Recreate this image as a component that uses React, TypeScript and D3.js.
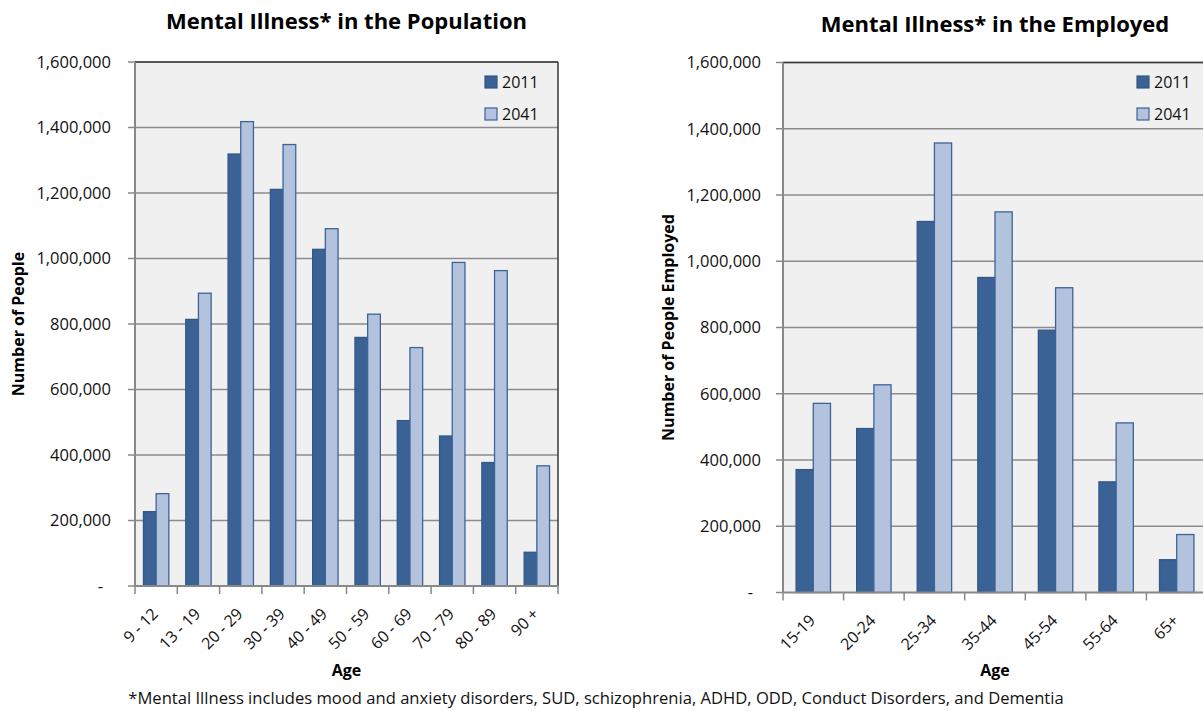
import React from "react";
import * as d3 from "d3";

// Age groups and counts of people with mental illness, 2011 vs projected 2041
const popCategories = ["9 - 12", "13 - 19", "20 - 29", "30 - 39", "40 - 49", "50 - 59", "60 - 69", "70 - 79", "80 - 89", "90 +"];
const pop2011 = [227000, 814000, 1319000, 1211000, 1028000, 759000, 505000, 458000, 377000, 103000];
const pop2041 = [282000, 894000, 1418000, 1348000, 1091000, 830000, 728000, 988000, 963000, 367000];

const empCategories = ["15-19", "20-24", "25-34", "35-44", "45-54", "55-64", "65+"];
const emp2011 = [371000, 495000, 1120000, 951000, 792000, 334000, 99000];
const emp2041 = [571000, 627000, 1357000, 1149000, 920000, 512000, 175000];

const seriesNames = ["2011", "2041"];
const yTicks = [0, 200000, 400000, 600000, 800000, 1000000, 1200000, 1400000, 1600000];

const FONT = "'Open Sans', 'Noto Sans', sans-serif";
const DARK = "#3b6295";
const LIGHT = "#b4c3dd";
const DARK_EDGE = "#335888";
const LIGHT_EDGE = "#3d6399";
const GRID = "#8c8c8c";

type ChartProps = {
  categories: string[];
  values: number[][];
  title: string;
  yLabel: string;
  x0: number;
  x1: number;
  y0: number;
  y1: number;
  groupFrac: number;
  titleY: number;
  yLabelX: number;
  legendX: number;
  tickGap: number;
  zeroGap: number;
};

const fmt = d3.format(",");

function BarChart(p: ChartProps) {
  const x = d3.scaleBand<string>().domain(p.categories).range([p.x0, p.x1]).paddingInner(0).paddingOuter(0);
  const y = d3.scaleLinear().domain([0, 1600000]).range([p.y1, p.y0]);
  const bw = x.bandwidth();
  const groupW = bw * p.groupFrac;
  const xs = d3.scaleBand<string>().domain(seriesNames).range([(bw - groupW) / 2, (bw + groupW) / 2]);
  const fills = [DARK, LIGHT];
  const edges = [DARK_EDGE, LIGHT_EDGE];
  const cx = (p.x0 + p.x1) / 2;
  const cy = (p.y0 + p.y1) / 2;

  return (
    <g>
      <text x={cx} y={p.titleY} textAnchor="middle" fontFamily={FONT} fontWeight={700} fontSize={22} fill="#000">
        {p.title}
      </text>
      <rect x={p.x0} y={p.y0} width={p.x1 - p.x0} height={p.y1 - p.y0} fill="#f0f0f0" />
      {yTicks.slice(1).map((t) => (
        <line key={t} x1={p.x0} x2={p.x1} y1={y(t)} y2={y(t)} stroke={GRID} strokeWidth={1.5} />
      ))}
      {/* plot frame: dark top and right edges */}
      <line x1={p.x0} x2={p.x1} y1={p.y0} y2={p.y0} stroke="#3a3a3a" strokeWidth={1.5} />
      <line x1={p.x1} x2={p.x1} y1={p.y0} y2={p.y1} stroke="#3a3a3a" strokeWidth={1.5} />
      {p.categories.map((c, i) => (
        <g key={c} transform={`translate(${x(c)},0)`}>
          {seriesNames.map((s, k) => {
            const v = p.values[k][i];
            return (
              <rect
                key={s}
                x={xs(s)}
                y={y(v)}
                width={xs.bandwidth()}
                height={y(0) - y(v)}
                fill={fills[k]}
                stroke={edges[k]}
                strokeWidth={1.3}
              />
            );
          })}
        </g>
      ))}
      {/* axes */}
      <line x1={p.x0} x2={p.x0} y1={p.y0} y2={p.y1} stroke="#888" strokeWidth={2} />
      <line x1={p.x0} x2={p.x1} y1={p.y1} y2={p.y1} stroke="#888" strokeWidth={2} />
      {yTicks.map((t) => (
        <g key={t}>
          <line x1={p.x0 - 7} x2={p.x0} y1={y(t)} y2={y(t)} stroke="#888" strokeWidth={1.5} />
          <text
            x={t === 0 ? p.x0 - p.zeroGap : p.x0 - p.tickGap}
            y={y(t)}
            dy="0.36em"
            textAnchor="end"
            fontFamily={FONT}
            fontSize={16.5}
            fill="#111"
          >
            {t === 0 ? "-" : fmt(t)}
          </text>
        </g>
      ))}
      {p.categories.map((c) => (
        <line key={c} x1={x(c)} x2={x(c)} y1={p.y1} y2={p.y1 + 8} stroke="#888" strokeWidth={1.5} />
      ))}
      <line x1={p.x1} x2={p.x1} y1={p.y1} y2={p.y1 + 8} stroke="#888" strokeWidth={1.5} />
      {p.categories.map((c) => {
        const tx = (x(c) as number) + bw / 2 - 5;
        const ty = p.y1 + 21;
        return (
          <text
            key={c}
            transform={`translate(${tx},${ty}) rotate(-45)`}
            dy="0.7em"
            textAnchor="end"
            fontFamily={FONT}
            fontSize={16}
            fill="#111"
          >
            {c}
          </text>
        );
      })}
      <text x={cx} y={676} textAnchor="middle" fontFamily={FONT} fontWeight={700} fontSize={16} fill="#000">
        Age
      </text>
      <text
        transform={`translate(${p.yLabelX},${cy}) rotate(-90)`}
        textAnchor="middle"
        fontFamily={FONT}
        fontWeight={700}
        fontSize={16}
        fill="#000"
      >
        {p.yLabel}
      </text>
      {/* legend */}
      {seriesNames.map((s, k) => (
        <g key={s} transform={`translate(${p.legendX},${76 + k * 32})`}>
          <rect x={0} y={0} width={12} height={12} fill={fills[k]} stroke={edges[k]} strokeWidth={1.2} />
          <text x={17} y={6} dy="0.36em" fontFamily={FONT} fontSize={16} fill="#111">
            {s}
          </text>
        </g>
      ))}
    </g>
  );
}

export default function App() {
  return (
    <svg
      width={1203}
      height={711}
      style={{ position: "absolute", left: 0, top: 0, background: "#fff" }}
    >
      <rect width={1203} height={711} fill="#fff" />
      <BarChart
        categories={popCategories}
        values={[pop2011, pop2041]}
        title="Mental Illness* in the Population"
        yLabel="Number of People"
        x0={135}
        x1={558}
        y0={62}
        y1={586}
        groupFrac={0.6}
        titleY={29}
        yLabelX={24}
        legendX={485}
        tickGap={24}
        zeroGap={32}
      />
      <BarChart
        categories={empCategories}
        values={[emp2011, emp2041]}
        title="Mental Illness* in the Employed"
        yLabel="Number of People Employed"
        x0={783}
        x1={1207}
        y0={62.5}
        y1={592.5}
        groupFrac={0.568}
        titleY={32}
        yLabelX={674}
        legendX={1137}
        tickGap={22}
        zeroGap={30}
      />
      <text x={596} y={704} textAnchor="middle" fontFamily={FONT} fontSize={16.6} fill="#111">
        *Mental Illness includes mood and anxiety disorders, SUD, schizophrenia, ADHD, ODD, Conduct Disorders, and Dementia
      </text>
    </svg>
  );
}
